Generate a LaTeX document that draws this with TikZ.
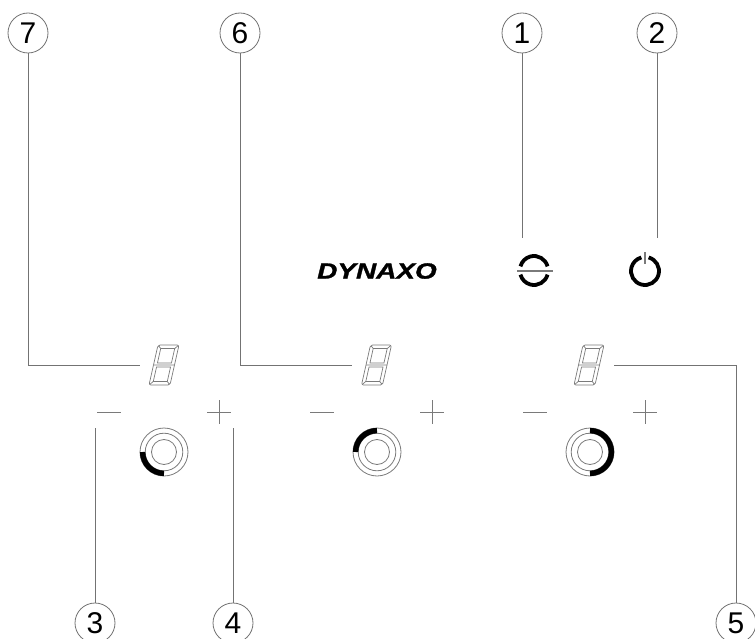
\documentclass[tikz,border=0pt]{standalone}
\usepackage{fontspec}
\setmainfont{Liberation Sans}
\newfontfamily\logofont[BoldItalicFont=*,ItalicFont=*,UprightFont=* Bold Italic,FakeBold=1.2]{Liberation Sans}
\definecolor{leadgray}{gray}{0.45}
\definecolor{symgray}{gray}{0.48}
\tikzset{
  callout/.style={circle,draw=leadgray,line width=0.8pt,minimum size=40pt,inner sep=0pt,font=\fontsize{30}{30}\selectfont,text=black},
  leader/.style={draw=leadgray,line width=0.9pt},
  segline/.style={draw=symgray,line width=0.7pt},
  ring/.style={draw=symgray,line width=0.8pt},
  fillarc/.style={draw=black,line width=5.4pt},
  signline/.style={draw=symgray,line width=0.9pt},
  powerarc/.style={draw=black,line width=3.8pt},
  logotext/.style={inner sep=0pt,font=\logofont\fontsize{22}{22}\selectfont,xscale=1.27,text=black}
}
\newcommand{\segdisplay}[2]{%
  \begin{scope}[shift={(#1,#2)},xslant=.225]
    \draw[segline,rounded corners=2pt] (0,0) -- (21,0) -- (21,40) -- (0,40) -- cycle;
    \draw[segline] (3.5,3.5) -- (17.5,3.5) -- (17.5,18) -- (3.5,18) -- cycle;
    \draw[segline] (3.5,22) -- (17.5,22) -- (17.5,36.5) -- (3.5,36.5) -- cycle;
    \draw[segline] (0.6,0.6) -- (3.5,3.5) (20.4,0.6) -- (17.5,3.5)
      (0.6,39.4) -- (3.5,36.5) (20.4,39.4) -- (17.5,36.5)
      (0,20) -- (21,20);
  \end{scope}}
\newcommand{\ringset}[4]{%
  \draw[ring] (#1,#2) circle[radius=24];
  \draw[ring] (#1,#2) circle[radius=18.8];
  \draw[ring] (#1,#2) circle[radius=12.5];
  \draw[fillarc] (#1,#2) ++(#3:21.4) arc[start angle=#3,end angle=#4,radius=21.4];}
\newcommand{\signs}[2]{%
  \draw[signline] (#1,412) -- ++(24,0);
  \draw[signline] (#2-12,412) -- (#2+12,412) (#2,400) -- (#2,424);}
\begin{document}
\begin{tikzpicture}[x=1pt,y=-1pt]
  \useasboundingbox (0,0) rectangle (755,639);
  \clip (0,0) rectangle (755,639);
  \fill[white] (0,0) rectangle (755,639);
  % callouts
  \node[callout] (c7) at (28,33) {7};
  \node[callout] (c6) at (240,33) {6};
  \node[callout] (c1) at (522,33) {1};
  \node[callout] (c2) at (657,33) {2};
  \node[callout] (c3) at (95,623) {3};
  \node[callout] (c4) at (233,623) {4};
  \node[callout] (c5) at (736,623) {5};
  % connector free ends
  \coordinate (e7) at (140,365);
  \coordinate (e6) at (352,365);
  \coordinate (e5) at (614,365);
  \coordinate (e1) at (522,238);
  \coordinate (e2) at (657,238);
  \coordinate (e3) at (95,428);
  \coordinate (e4) at (233,428);
  \draw[leader] (c7.south) |- (e7);
  \draw[leader] (c6.south) |- (e6);
  \draw[leader] (c5.north) |- (e5);
  \draw[leader] (c1.south) -- (e1);
  \draw[leader] (c2.south) -- (e2);
  \draw[leader] (c3.north) -- (e3);
  \draw[leader] (c4.north) -- (e4);
  % logo
  \node[logotext,anchor=center] (logo) at (377,271) {DYNAXO};
  % mode symbol
  \draw[powerarc] (534,270) ++(-15:14) arc[start angle=-15,end angle=-165,radius=14];
  \draw[powerarc] (534,271) ++(15:14) arc[start angle=15,end angle=165,radius=14];
  \draw[signline,line width=1.2pt] (517,271) -- (553,271);
  % power symbol
  \draw[powerarc] (645,271) ++(-75:14) arc[start angle=-75,end angle=255,radius=14];
  \draw[signline,line width=1.2pt] (645,252) -- (645,264);
  % displays
  \segdisplay{158}{345}
  \segdisplay{370.5}{345}
  \segdisplay{583}{345}
  % signs
  \signs{97}{219}
  \signs{310}{432}
  \signs{523}{645}
  % rings
  \ringset{164}{452}{-180}{-270}
  \ringset{377}{452}{-180}{-90}
  \ringset{590}{452}{-90}{90}
\end{tikzpicture}
\end{document}
